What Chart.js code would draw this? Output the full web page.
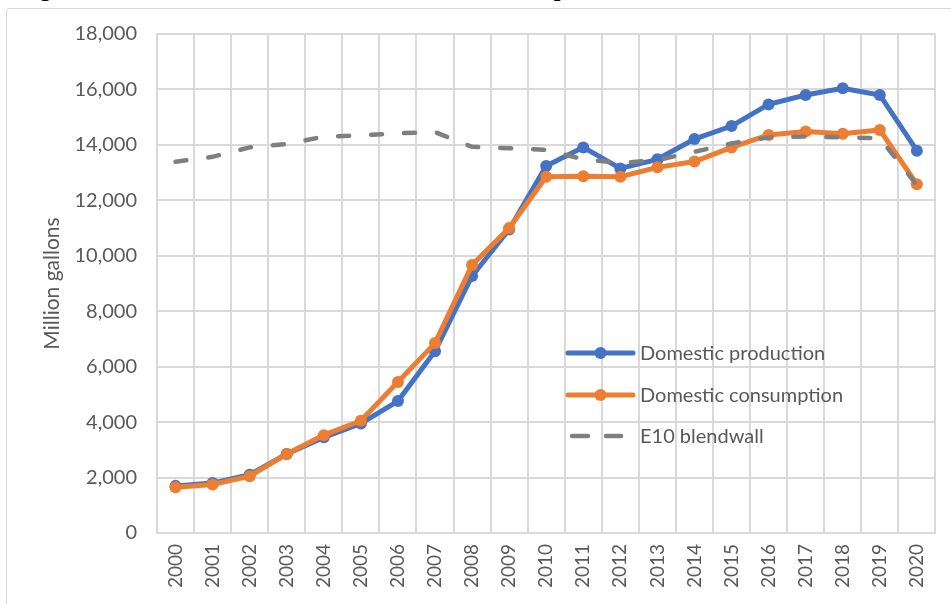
<!DOCTYPE html>
<html>
<head>
  <title>Domestic production and consumption of ethanol</title>
  <script src="https://cdn.jsdelivr.net/npm/chart.js"></script>
  <style>
    body { margin: 0; background: #fff; overflow: hidden; }
    #wrap { position: relative; width: 951px; height: 604px; }
    #caption {
      position: absolute; left: 18px; top: -24px;
      font: bold 24px "Liberation Serif", serif; line-height: 24px;
      white-space: nowrap; color: #000;
    }
    #frame {
      position: absolute; left: 6px; top: 8px; width: 960px; height: 620px;
      border: 1px solid #d9d9d9; border-radius: 3px;
    }
    #box { position: absolute; left: 0; top: 0; width: 951px; height: 604px; }
  </style>
</head>
<body>
<div id="wrap">
  <div id="caption">Figure 1. Ethanol Domestic Production and Consumption, 2000–2020</div>
  <div id="frame"></div>
  <div id="box"><canvas id="ethanolChart"></canvas></div>
</div>

<script>
    // 데이터 (million gallons)
    const years = ['2000', '2001', '2002', '2003', '2004', '2005', '2006', '2007', '2008', '2009', '2010',
                   '2011', '2012', '2013', '2014', '2015', '2016', '2017', '2018', '2019', '2020'];
    const production = [1700, 1800, 2100, 2850, 3450, 3950, 4760, 6560, 9270, 10950, 13240,
                        13910, 13150, 13480, 14210, 14680, 15460, 15800, 16040, 15800, 13790];
    const consumption = [1650, 1750, 2050, 2850, 3530, 4050, 5450, 6850, 9670, 11000, 12850,
                         12870, 12850, 13190, 13400, 13910, 14360, 14480, 14400, 14540, 12580];
    const blendwall = [13390, 13570, 13910, 14030, 14300, 14340, 14420, 14460, 13930, 13880, 13820,
                       13480, 13350, 13450, 13750, 14050, 14270, 14300, 14270, 14240, 12550];
    const yMax = 18000;
    const yStep = 2000;

    const textColor = '#595959';
    const gridColor = '#d9d9d9';
    const fontName = 'Lato, "Open Sans", sans-serif';

    // 범례를 차트 안에 직접 그림
    const insideLegend = {
        id: 'insideLegend',
        afterDraw(chart) {
            const ctx = chart.ctx;
            const x0 = 568, x1 = 633, tx = 640;
            const rows = [353, 395, 436];
            ctx.save();
            ctx.font = '20px ' + fontName;
            ctx.textBaseline = 'middle';
            chart.data.datasets.forEach((ds, i) => {
                const y = rows[i];
                ctx.strokeStyle = ds.borderColor;
                ctx.lineWidth = ds.borderWidth;
                ctx.lineCap = 'round';
                ctx.setLineDash([]);
                ctx.beginPath();
                if (ds.borderDash) {
                    ctx.moveTo(572, y); ctx.lineTo(588, y);
                    ctx.moveTo(606, y); ctx.lineTo(621, y);
                    ctx.stroke();
                } else {
                    ctx.moveTo(x0, y); ctx.lineTo(x1, y);
                    ctx.stroke();
                    ctx.fillStyle = ds.pointBackgroundColor;
                    ctx.beginPath();
                    ctx.arc((x0 + x1) / 2, y, ds.pointRadius, 0, Math.PI * 2);
                    ctx.fill();
                }
                ctx.fillStyle = textColor;
                ctx.fillText(ds.label, tx, y + 1);
            });
            ctx.restore();
        }
    };

    const ctx = document.getElementById('ethanolChart').getContext('2d');
    const chart = new Chart(ctx, {
        type: 'line',
        data: {
            labels: years,
            datasets: [{
                label: 'Domestic production',
                data: production,
                borderColor: '#4472C4',
                backgroundColor: '#4472C4',
                pointBackgroundColor: '#4472C4',
                pointBorderWidth: 0,
                pointRadius: 6,
                borderWidth: 5,
                order: 3
            }, {
                label: 'Domestic consumption',
                data: consumption,
                borderColor: '#ED7D31',
                backgroundColor: '#ED7D31',
                pointBackgroundColor: '#ED7D31',
                pointBorderWidth: 0,
                pointRadius: 6,
                borderWidth: 5,
                order: 2
            }, {
                label: 'E10 blendwall',
                data: blendwall,
                borderColor: '#7F7F7F',
                borderWidth: 4.5,
                borderDash: [11, 22],
                borderCapStyle: 'round',
                pointRadius: 0,
                order: 1
            }]
        },
        options: {
            responsive: true,
            maintainAspectRatio: false,
            animation: false,
            layout: { padding: { top: 34, right: 14, bottom: 0, left: 0 } },
            plugins: {
                legend: { display: false },
                tooltip: { enabled: false }
            },
            scales: {
                x: {
                    offset: true,
                    grid: { offset: true, color: gridColor, lineWidth: 2, drawTicks: false },
                    border: { color: gridColor, width: 2 },
                    ticks: {
                        minRotation: 90, maxRotation: 90, padding: 11,
                        color: textColor, font: { family: fontName, size: 19 }
                    },
                    afterFit(scale) { scale.height = 71; }
                },
                y: {
                    min: 0,
                    max: yMax,
                    grid: { color: gridColor, lineWidth: 2, drawTicks: false },
                    border: { color: gridColor, width: 2 },
                    ticks: {
                        stepSize: yStep, padding: 20,
                        color: textColor, font: { family: fontName, size: 20 },
                        callback: (v) => v.toLocaleString('en-US')
                    },
                    title: {
                        display: true, text: 'Million gallons',
                        color: textColor, font: { family: fontName, size: 21 },
                        padding: { top: 40, bottom: 0 }
                    },
                    afterFit(scale) { scale.width = 157; }
                }
            }
        },
        plugins: [insideLegend]
    });
</script>
</body>
</html>
